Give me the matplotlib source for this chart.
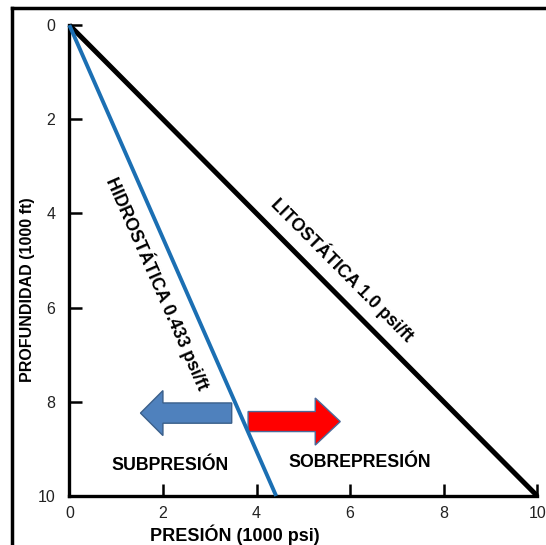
import matplotlib
matplotlib.use("Agg")
import matplotlib.pyplot as plt
from matplotlib.patches import FancyArrow
from matplotlib.lines import Line2D

plt.rcParams['font.family'] = ['Liberation Sans', 'DejaVu Sans']

# Data
depth = [0, 10]                 # 1000 ft
lito_pressure = [0, 10]         # 1000 psi (1.0 psi/ft)
hidro_pressure = [0, 4.42]      # 1000 psi (0.433 psi/ft)
xticks = [0, 2, 4, 6, 8, 10]
yticks = [0, 2, 4, 6, 8, 10]

fig = plt.figure(figsize=(5.46, 5.45), dpi=100)
ax = fig.add_axes([0.127, 0.090, 0.857, 0.864])

ax.plot(lito_pressure, depth, color='black', lw=3.6, solid_capstyle='butt', clip_on=False, zorder=3)
ax.plot(hidro_pressure, depth, color='#1b6fb3', lw=2.8, solid_capstyle='butt', clip_on=False, zorder=3)

ax.set_xlim(0, 10)
ax.set_ylim(10, 0)
ax.set_xticks(xticks)
ax.set_yticks(yticks)
ax.tick_params(direction='in', length=9, width=1.8, labelsize=11.5, colors='black')
ax.tick_params(axis='x', pad=7)
ax.tick_params(axis='y', pad=10)
for lbl in ax.get_xticklabels() + ax.get_yticklabels():
    lbl.set_color('#222222')
for s in ['top', 'right']:
    ax.spines[s].set_visible(False)
for s in ['left', 'bottom']:
    ax.spines[s].set_linewidth(2.4)

ax.set_xlabel('PRESIÓN (1000 psi)', fontsize=13, fontweight='bold')
ax.set_ylabel('PROFUNDIDAD (1000 ft)', fontsize=11.5, fontweight='bold')
ax.xaxis.set_label_coords(0.354, -0.083)
ax.yaxis.set_label_coords(-0.089, 0.437)
ax.xaxis.label.set_va('center')
ax.yaxis.label.set_va('center')

# arrows
blue = FancyArrow(3.47, 8.24, -1.95, 0, width=0.43, head_width=0.955, head_length=0.48,
                  length_includes_head=True, facecolor='#4f81bd', edgecolor='#3a5f8a', lw=1.0, zorder=2)
red = FancyArrow(3.82, 8.42, 1.97, 0, width=0.425, head_width=1.0, head_length=0.535,
                 length_includes_head=True, facecolor='#ff0000', edgecolor='#4a6a9a', lw=1.0, zorder=2)
ax.add_patch(blue)
ax.add_patch(red)

ax.text(2.15, 9.36, 'SUBPRESIÓN', fontsize=12.8, fontweight='bold', ha='center', va='center')
ax.text(6.21, 9.28, 'SOBREPRESIÓN', fontsize=12.8, fontweight='bold', ha='center', va='center')
ax.text(1.89, 5.48, 'HIDROSTÁTICA 0.433 psi/ft', fontsize=12.8, fontweight='bold',
        ha='center', va='center', rotation=-66.3, rotation_mode='anchor')
ax.text(5.83, 5.2, 'LITOSTÁTICA 1.0 psi/ft', fontsize=12.8, fontweight='bold',
        ha='center', va='center', rotation=-45.2, rotation_mode='anchor')

# outer frame (left and top)
fig.add_artist(Line2D([12/546, 12/546], [0, 1 - 8/545], transform=fig.transFigure, color='black', lw=2.5))
fig.add_artist(Line2D([12/546, 1], [1 - 8/545, 1 - 8/545], transform=fig.transFigure, color='black', lw=2.5))

fig.savefig('out.png', dpi=100)
